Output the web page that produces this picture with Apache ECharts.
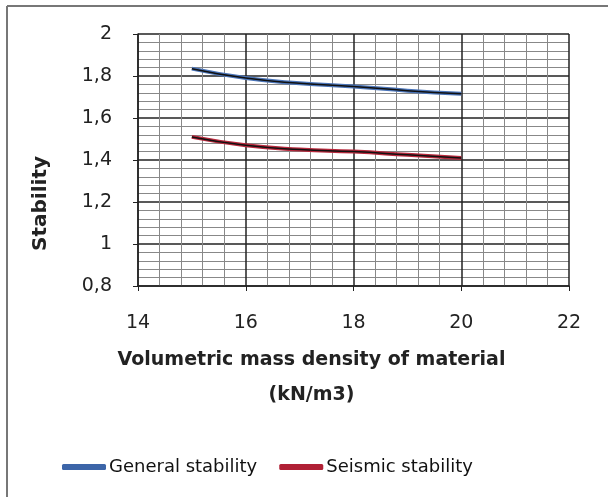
<!DOCTYPE html>
<html><head><meta charset="utf-8">
<script src="https://cdn.jsdelivr.net/npm/echarts@6/dist/echarts.min.js"></script>
<style>html,body{margin:0;padding:0;background:#fff}#c{width:608px;height:497px}</style>
</head><body><div id="c"></div>
<script>
const densities = [15, 16, 17, 18, 19, 20];
const generalStability = [1.835, 1.79, 1.765, 1.75, 1.73, 1.715];
const seismicStability = [1.51, 1.47, 1.45, 1.44, 1.425, 1.41];
const seriesNames = ['General stability', 'Seismic stability'];
const xTitle = 'Volumetric mass density of material\n(kN/m3)';
const yTitle = 'Stability';

const font = 'DejaVu Sans, sans-serif';
const pair = (xs, ys) => xs.map((x, i) => [x, ys[i]]);

const chart = echarts.init(document.getElementById('c'));
chart.setOption({
  backgroundColor: '#fff',
  animation: false,
  graphic: [
    {type: 'line', shape: {x1: 7, y1: 6, x2: 608, y2: 6}, style: {stroke: '#777', lineWidth: 2}},
    {type: 'line', shape: {x1: 7, y1: 6, x2: 7, y2: 497}, style: {stroke: '#777', lineWidth: 2}},
    {type: 'text', left: 31, top: 156, rotation: Math.PI / 2,
     style: {text: yTitle, font: 'bold 20px ' + font, fill: '#222'}}
  ],
  grid: {left: 138, right: 39, top: 34, bottom: 211},
  legend: {
    data: seriesNames, top: 453, left: 57, itemGap: 22,
    itemWidth: 44, itemHeight: 6, icon: 'roundRect',
    textStyle: {fontFamily: font, fontSize: 18, color: '#111', padding: [0, 0, 0, -2]}
  },
  xAxis: {
    type: 'value', min: 14, max: 22, interval: 2,
    name: xTitle, nameLocation: 'middle', nameGap: 57,
    nameTextStyle: {fontFamily: font, fontSize: 19, fontWeight: 'bold', color: '#222', lineHeight: 35,
      padding: [0, 84, 0, 0]},
    axisLine: {show: true, lineStyle: {color: '#222', width: 1.5}},
    axisTick: {show: true, length: 5, lineStyle: {color: '#222'}},
    axisLabel: {fontFamily: font, fontSize: 19, color: '#222', margin: 28},
    splitLine: {show: true, lineStyle: {color: '#222', width: 1.5}},
    minorTick: {show: false, splitNumber: 5},
    minorSplitLine: {show: true, lineStyle: {color: '#888', width: 1}}
  },
  yAxis: {
    type: 'value', min: 0.8, max: 2, interval: 0.2,
    axisLine: {show: true, lineStyle: {color: '#222', width: 1.5}},
    axisTick: {show: true, length: 5, lineStyle: {color: '#222'}},
    axisLabel: {fontFamily: font, fontSize: 19, color: '#222', margin: 26,
      formatter: v => String(Math.round(v * 10) / 10).replace('.', ',')},
    splitLine: {show: true, lineStyle: {color: '#222', width: 1.5}},
    minorTick: {show: false, splitNumber: 5},
    minorSplitLine: {show: true, lineStyle: {color: '#888', width: 1}}
  },
  series: [
    {name: seriesNames[0], type: 'line', data: pair(densities, generalStability), showSymbol: false,
     smooth: true, lineStyle: {color: '#4a74b8', width: 4}, itemStyle: {color: '#3c65a8'}},
    {name: seriesNames[1], type: 'line', data: pair(densities, seismicStability), showSymbol: false,
     smooth: true, lineStyle: {color: '#b8283c', width: 4}, itemStyle: {color: '#b02035'}},
    {name: 'trend1', type: 'line', data: pair(densities, generalStability), showSymbol: false,
     smooth: true, lineStyle: {color: '#111', width: 1.5}},
    {name: 'trend2', type: 'line', data: pair(densities, seismicStability), showSymbol: false,
     smooth: true, lineStyle: {color: '#111', width: 1.5}}
  ]
});
</script></body></html>
